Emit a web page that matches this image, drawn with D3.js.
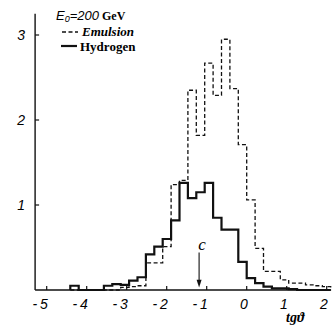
<!DOCTYPE html>
<html>
<head>
  <meta charset="utf-8">
  <title>Emulsion vs Hydrogen</title>
  <script src="https://cdn.jsdelivr.net/npm/d3@7/dist/d3.min.js"></script>
  <style>
    body { margin: 0; background: #fff; }
    svg { display: block; }
  </style>
</head>
<body>
  <svg width="332" height="327"></svg>

  <script>
    // bin left edges (tg theta), every bin 0.21 wide
    const binLeft = [-4.41, -4.20, -3.99, -3.78, -3.57, -3.36, -3.15, -2.94, -2.73, -2.52,
                     -2.31, -2.10, -1.89, -1.68, -1.47, -1.26, -1.05, -0.84, -0.63, -0.42,
                     -0.21, 0.00, 0.21, 0.42, 0.63, 0.84, 1.05, 1.26, 1.47, 1.68, 1.89];
    const binWidth = 0.21;

    const hydrogen = [0.05, 0, 0, 0, 0.05, 0.07, 0.06, 0.11, 0.15, 0.42,
                      0.51, 0.60, 0.82, 1.26, 1.08, 1.15, 1.26, 0.85, 0.71, 0.71,
                      0.33, 0.14, 0.08, 0.04, 0.02, 0.02, 0.01, 0, 0, 0, 0];
    const emulsion = [0, 0, 0, 0, 0, 0, 0.03, 0.04, 0.05, 0.32,
                      0.32, 0.51, 1.24, 1.29, 2.35, 1.82, 2.67, 2.29, 2.95, 2.37,
                      1.71, 1.06, 0.49, 0.22, 0.22, 0.12, 0.08, 0.08, 0.06, 0.05, 0.04];

    const xTicks = [-5, -4, -3, -2, -1, 0, 1, 2];
    const yTicks = [1, 2, 3];
    const arrowAt = -1.19;   // marked value "c"

    const svg = d3.select("svg");
    const serif = "'Liberation Serif', 'DejaVu Serif', serif";
    const sans = "'Liberation Sans', 'DejaVu Sans', sans-serif";

    const x = d3.scaleLinear().domain([-5, 2]).range([46.7, 326.7]);
    const y = d3.scaleLinear().domain([0, 3]).range([290, 35]);

    // axes: plain lines with inward ticks
    svg.append("line")
      .attr("x1", x(-5.29)).attr("x2", x(2.11))
      .attr("y1", y(0)).attr("y2", y(0))
      .attr("stroke", "#111").attr("stroke-width", 1.6);
    svg.append("line")
      .attr("x1", x(-5.29)).attr("x2", x(-5.29))
      .attr("y1", y(0)).attr("y2", y(3.25))
      .attr("stroke", "#111").attr("stroke-width", 1.4);

    svg.selectAll("line.xt").data(xTicks).enter().append("line")
      .attr("class", "xt")
      .attr("x1", d => x(d)).attr("x2", d => x(d))
      .attr("y1", y(0)).attr("y2", y(0) - 4)
      .attr("stroke", "#111").attr("stroke-width", 1.2);
    svg.selectAll("line.yt").data(yTicks).enter().append("line")
      .attr("class", "yt")
      .attr("x1", x(-5.29)).attr("x2", x(-5.29) + 4)
      .attr("y1", d => y(d)).attr("y2", d => y(d))
      .attr("stroke", "#111").attr("stroke-width", 1.2);

    svg.selectAll("text.xl").data(xTicks).enter().append("text")
      .attr("class", "xl")
      .attr("x", d => x(d) + 1)
      .attr("y", 309)
      .attr("text-anchor", "end")
      .attr("font-family", sans).attr("font-style", "italic").attr("font-size", 14)
      .text(d => d < 0 ? "-\u2009" + (-d) : d);

    svg.selectAll("text.yl").data(yTicks).enter().append("text")
      .attr("class", "yl")
      .attr("x", 25)
      .attr("y", d => y(d) + 5)
      .attr("text-anchor", "end")
      .attr("font-family", sans).attr("font-style", "italic").attr("font-size", 14)
      .text(d => d);

    // step histograms
    function steps(values) {
      const pts = [{ x: binLeft[0], y: 0 }];
      values.forEach((v, i) => pts.push({ x: binLeft[i], y: v }));
      pts.push({ x: binLeft[binLeft.length - 1] + binWidth, y: 0 });
      return pts;
    }
    const line = d3.line().x(d => x(d.x)).y(d => y(d.y)).curve(d3.curveStepAfter);

    svg.append("path")
      .attr("d", line(steps(emulsion)))
      .attr("fill", "none").attr("stroke", "#111")
      .attr("stroke-width", 1.3).attr("stroke-dasharray", "4,2.5");
    svg.append("path")
      .attr("d", line(steps(hydrogen)))
      .attr("fill", "none").attr("stroke", "#111")
      .attr("stroke-width", 2.2).attr("stroke-linejoin", "miter");

    // arrow marking c
    svg.append("line")
      .attr("x1", x(arrowAt)).attr("x2", x(arrowAt))
      .attr("y1", y(0.44)).attr("y2", y(0.1))
      .attr("stroke", "#111").attr("stroke-width", 1.1);
    svg.append("path")
      .attr("d", `M${x(arrowAt) - 2.5},${y(0.12)} L${x(arrowAt) + 2.5},${y(0.12)} L${x(arrowAt)},${y(0.03)} Z`)
      .attr("fill", "#111");
    svg.append("text")
      .attr("x", x(arrowAt) + 3).attr("y", 250)
      .attr("text-anchor", "middle")
      .attr("font-family", serif).attr("font-style", "italic").attr("font-size", 17)
      .text("c");

    // axis title
    svg.append("text")
      .attr("x", 286).attr("y", 322)
      .attr("font-family", serif).attr("font-style", "italic").attr("font-weight", "bold")
      .attr("font-size", 14)
      .text("tgϑ");

    // legend
    const title = svg.append("text")
      .attr("x", 56).attr("y", 20)
      .attr("font-family", sans).attr("font-style", "italic").attr("font-size", 13);
    title.append("tspan").text("E");
    title.append("tspan").attr("font-size", 9).attr("dy", 2).text("0");
    title.append("tspan").attr("dy", -2).text("=200");
    title.append("tspan").attr("font-family", serif).attr("font-style", "normal")
      .attr("font-weight", "bold").attr("font-size", 12).text(" GeV");

    svg.append("line")
      .attr("x1", 62).attr("x2", 78).attr("y1", 32).attr("y2", 32)
      .attr("stroke", "#111").attr("stroke-width", 1.3).attr("stroke-dasharray", "4,2.5");
    svg.append("text")
      .attr("x", 82).attr("y", 36)
      .attr("font-family", serif).attr("font-style", "italic").attr("font-weight", "bold")
      .attr("font-size", 13)
      .text("Emulsion");
    svg.append("line")
      .attr("x1", 61).attr("x2", 77).attr("y1", 46).attr("y2", 46)
      .attr("stroke", "#111").attr("stroke-width", 2.2);
    svg.append("text")
      .attr("x", 80).attr("y", 51)
      .attr("font-family", serif).attr("font-weight", "bold")
      .attr("font-size", 13)
      .text("Hydrogen");
  </script>
</body>
</html>
